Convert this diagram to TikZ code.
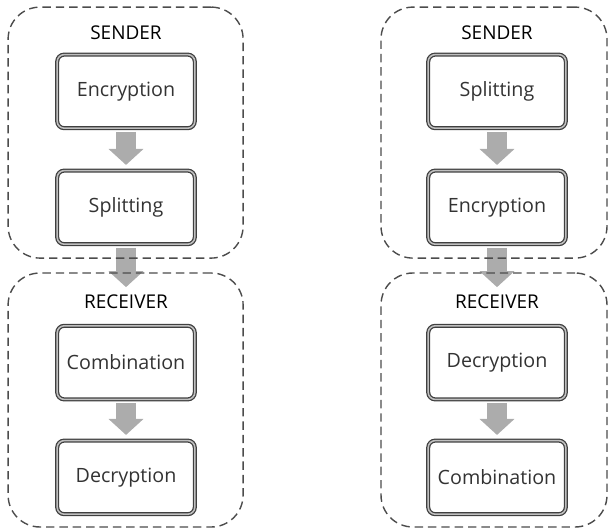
\documentclass[tikz,border=0pt]{standalone}
\usepackage{fontspec}
\setmainfont{Open Sans}
\usetikzlibrary{arrows.meta,backgrounds}

\tikzset{
  stage/.style={draw=black!75, double=gray!50, double distance=1.1pt, line width=0.9pt,
    rounded corners=5pt, minimum width=3.44cm, minimum height=1.84cm,
    text=black!80, font=\fontsize{14}{16}\selectfont},
  party/.style={draw=black!70, dash pattern=on 6pt off 3.5pt, line width=1pt,
    rounded corners=0.8cm},
  partylabel/.style={inner sep=0pt, font=\fontsize{13.5}{15}\selectfont},
  flow/.style={draw=gray!65, line width=0.5cm, -{Triangle[width=0.85cm,length=0.4cm]}},
}

\begin{document}
\begin{tikzpicture}
    \useasboundingbox (0,0) rectangle (15.225,13.275);

    % encrypt first, then split
    \node[party,minimum width=5.875cm,minimum height=6.275cm] (snd1) at (3.14, 9.96) {};
    \node[party,minimum width=5.875cm,minimum height=6.35cm] (rcv1) at (3.14, 3.275) {};
    \node[partylabel] (ls1) at (3.15, 12.45) {SENDER};
    \node[partylabel] (lr1) at (3.15, 5.725) {RECEIVER};
    \node[stage] (enc1) at (3.15, 10.99) {Encryption};
    \node[stage] (spl1) at (3.15, 8.09) {Splitting};
    \node[stage] (com1) at (3.15, 4.21) {Combination};
    \node[stage] (dec1) at (3.15, 1.34) {Decryption};

    % split first, then encrypt
    \node[party,minimum width=5.65cm,minimum height=6.275cm] (snd2) at (12.35, 9.96) {};
    \node[party,minimum width=5.65cm,minimum height=6.35cm] (rcv2) at (12.35, 3.275) {};
    \node[partylabel] (ls2) at (12.425, 12.45) {SENDER};
    \node[partylabel] (lr2) at (12.425, 5.725) {RECEIVER};
    \node[stage] (spl2) at (12.425, 10.99) {Splitting};
    \node[stage] (enc2) at (12.425, 8.09) {Encryption};
    \node[stage] (dec2) at (12.425, 4.21) {Decryption};
    \node[stage] (com2) at (12.425, 1.34) {Combination};

    \begin{pgfonlayer}{background}
        \draw[flow,shorten <=0.075cm,shorten >=0.125cm] (enc1) -- (spl1);
        \draw[flow,shorten <=0.075cm,shorten >=0.19cm] (spl1.south) -- (lr1.north);
        \draw[flow,shorten <=0.075cm,shorten >=0.125cm] (com1) -- (dec1);

        \draw[flow,shorten <=0.075cm,shorten >=0.125cm] (spl2) -- (enc2);
        \draw[flow,shorten <=0.075cm,shorten >=0.19cm] (enc2.south) -- (lr2.north);
        \draw[flow,shorten <=0.075cm,shorten >=0.125cm] (dec2) -- (com2);
    \end{pgfonlayer}
\end{tikzpicture}
\end{document}
